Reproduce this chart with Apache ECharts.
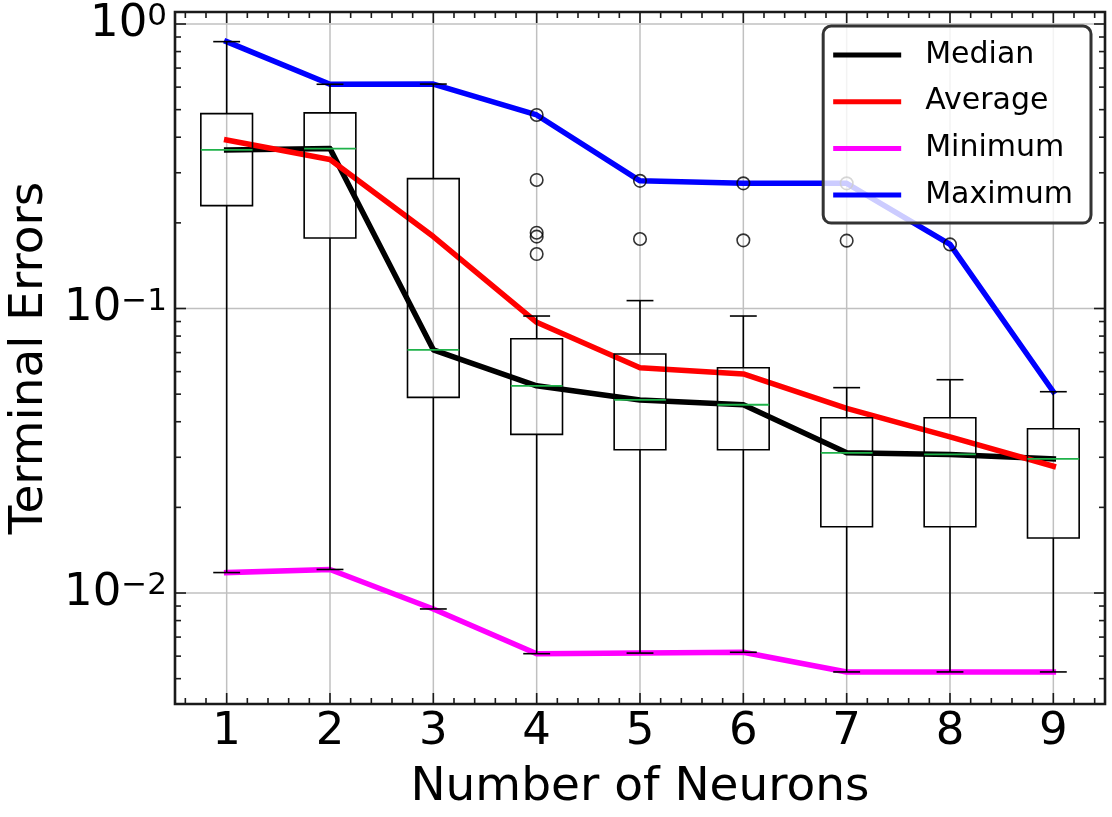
<!DOCTYPE html>
<html><head><meta charset="utf-8">
<script src="https://cdn.jsdelivr.net/npm/echarts@6/dist/echarts.min.js"></script>
<style>html,body{margin:0;padding:0;background:#fff}#chart{width:1112px;height:817px}</style>
</head><body><div id="chart"></div>
<script>
// ---- data ----
const categories = ['1', '2', '3', '4', '5', '6', '7', '8', '9'];
const whiskerLow  = [0.0118, 0.0121, 0.00879, 0.00612, 0.00615, 0.00619, 0.00528, 0.00528, 0.00528];
const boxQ1       = [0.230, 0.177, 0.0487, 0.0361, 0.0319, 0.0319, 0.0171, 0.0171, 0.0156];
const boxMedian   = [0.361, 0.365, 0.0716, 0.0535, 0.0477, 0.0459, 0.0311, 0.0307, 0.0296];
const boxQ3       = [0.484, 0.487, 0.286, 0.0783, 0.0692, 0.0619, 0.0413, 0.0413, 0.0378];
const whiskerHigh = [0.867, 0.614, 0.615, 0.0941, 0.1066, 0.0941, 0.0527, 0.0562, 0.0510];
const outlierCategory = [3, 3, 3, 3, 3, 4, 4, 5, 5, 6, 6, 7];
const outlierValue    = [0.479, 0.283, 0.1847, 0.1789, 0.1554, 0.281, 0.1755, 0.2754, 0.1736, 0.2754, 0.1732, 0.168];
const medianLine  = [0.361, 0.365, 0.0716, 0.0535, 0.0477, 0.0459, 0.0311, 0.0307, 0.0296];
const averageLine = [0.391, 0.334, 0.179, 0.0894, 0.0619, 0.0589, 0.0446, 0.0354, 0.0279];
const minimumLine = [0.0118, 0.0121, 0.00879, 0.00612, 0.00615, 0.00619, 0.00528, 0.00528, 0.00528];
const maximumLine = [0.867, 0.614, 0.615, 0.479, 0.281, 0.2754, 0.2754, 0.168, 0.0510];
const yMajorTicks = [0.01, 0.1, 1];
const yMinorTicks = [0.005, 0.006, 0.007, 0.008, 0.009,
  0.02, 0.03, 0.04, 0.05, 0.06, 0.07, 0.08, 0.09,
  0.2, 0.3, 0.4, 0.5, 0.6, 0.7, 0.8, 0.9];
const xMinorOffsets = [-0.4, -0.2, 0.2, 0.4];
const yMin = 0.004073, yMax = 1.102;

const FONT = 'DejaVu Sans';
const chart = echarts.init(document.getElementById('chart'), null, {renderer: 'canvas'});

function gridRender(params, api) {
  if (params.dataIndex !== 0) return;
  const cs = params.coordSys;
  const st = {stroke: '#c0c0c0', lineWidth: 1.5};
  const ch = [];
  for (let i = 0; i < categories.length; i++) {
    const x = api.coord([i, 0.1])[0];
    ch.push({type: 'line', shape: {x1: x, y1: cs.y, x2: x, y2: cs.y + cs.height}, style: st});
  }
  yMajorTicks.forEach(v => {
    const y = api.coord([0, v])[1];
    ch.push({type: 'line', shape: {x1: cs.x, y1: y, x2: cs.x + cs.width, y2: y}, style: st});
  });
  return {type: 'group', children: ch, silent: true};
}

function frameRender(params, api) {
  if (params.dataIndex !== 0) return;
  const cs = params.coordSys;
  const band = api.size([1, 0])[0];
  const stroke = '#1a1a1a';
  const st = {stroke: stroke, lineWidth: 1.6};
  const ch = [];
  const L = (x1, y1, x2, y2) => ch.push({type: 'line', shape: {x1, y1, x2, y2}, style: st});
  const top = cs.y, bot = cs.y + cs.height, left = cs.x, right = cs.x + cs.width;
  const maj = 11, mnr = 6;
  for (let i = 0; i < categories.length; i++) {
    const x = api.coord([i, 0.1])[0];
    L(x, bot, x, bot - maj); L(x, top, x, top + maj);
    xMinorOffsets.forEach(o => {
      const xm = x + o * band;
      L(xm, bot, xm, bot - mnr); L(xm, top, xm, top + mnr);
    });
  }
  yMajorTicks.forEach(v => {
    const y = api.coord([0, v])[1];
    L(left, y, left + maj, y); L(right, y, right - maj, y);
  });
  yMinorTicks.forEach(v => {
    const y = api.coord([0, v])[1];
    L(left, y, left + mnr, y); L(right, y, right - mnr, y);
  });
  ch.push({type: 'rect', shape: {x: left, y: top, width: cs.width, height: cs.height},
    style: {fill: 'none', stroke: stroke, lineWidth: 2.6}});
  return {type: 'group', children: ch, silent: true};
}

function boxRender(params, api) {
  const i = api.value(0);
  const band = api.size([1, 0])[0];
  const cx = api.coord([i, api.value(3)])[0];
  const yLo = api.coord([i, api.value(1)])[1];
  const yQ1 = api.coord([i, api.value(2)])[1];
  const yMed = api.coord([i, api.value(3)])[1];
  const yQ3 = api.coord([i, api.value(4)])[1];
  const yHi = api.coord([i, api.value(5)])[1];
  const hb = band * 0.25, hc = band * 0.13;
  const st = {stroke: '#000', lineWidth: 1.6};
  return {type: 'group', children: [
    {type: 'line', shape: {x1: cx, y1: yQ3, x2: cx, y2: yHi}, style: st},
    {type: 'line', shape: {x1: cx, y1: yQ1, x2: cx, y2: yLo}, style: st},
    {type: 'line', shape: {x1: cx - hc, y1: yHi, x2: cx + hc, y2: yHi}, style: st},
    {type: 'line', shape: {x1: cx - hc, y1: yLo, x2: cx + hc, y2: yLo}, style: st},
    {type: 'rect', shape: {x: cx - hb, y: yQ3, width: 2 * hb, height: yQ1 - yQ3}, style: {fill: 'none', stroke: '#000', lineWidth: 1.6}},
    {type: 'line', shape: {x1: cx - hb, y1: yMed, x2: cx + hb, y2: yMed}, style: {stroke: '#1fb24a', lineWidth: 1.8}}
  ]};
}

const lineSeries = (name, data, color) => ({
  name: name, type: 'line', data: data, z: 2, symbol: 'none', showSymbol: false,
  lineStyle: {color: color, width: 5.5, cap: 'square', join: 'round'},
  itemStyle: {color: color}, emphasis: {disabled: true}
});

const option = {
  animation: false,
  backgroundColor: '#fff',
  grid: {left: 175, right: 7, top: 12, bottom: 113, containLabel: false, outerBoundsMode: 'none'},
  legend: {
    data: ['Median', 'Average', 'Minimum', 'Maximum'],
    orient: 'vertical', right: 21, top: 26, z: 20,
    icon: 'rect', itemWidth: 68, itemHeight: 5, itemGap: 16.7,
    padding: [14, 18, 13, 10],
    backgroundColor: 'rgba(255,255,255,0.8)', borderColor: '#333', borderWidth: 3, borderRadius: 8,
    selectedMode: false,
    textStyle: {fontSize: 30, fontFamily: FONT, color: '#000', padding: [0, 0, 0, 19], lineHeight: 30}
  },
  xAxis: {
    type: 'category', data: categories, boundaryGap: true,
    axisLine: {show: false}, axisTick: {show: false}, splitLine: {show: false},
    axisLabel: {fontSize: 45, fontFamily: FONT, color: '#000', margin: 6},
    name: 'Number of Neurons', nameLocation: 'middle', nameGap: 60,
    nameTextStyle: {fontSize: 47, fontFamily: FONT, color: '#000'}
  },
  yAxis: {
    type: 'log', logBase: 10, min: yMin, max: yMax,
    axisLine: {show: false}, axisTick: {show: false}, splitLine: {show: false},
    axisLabel: {
      margin: 8, color: '#000',
      formatter: function (v) {
        const e = Math.log10(v);
        const r = Math.round(e);
        if (Math.abs(e - r) > 1e-6) return '';
        const s = r < 0 ? '\u2212' + Math.abs(r) : String(r);
        return '{b|10}{s|' + s + '}';
      },
      rich: {
        b: {fontSize: 45, fontFamily: FONT, color: '#000', lineHeight: 45},
        s: {fontSize: 31, fontFamily: FONT, color: '#000', verticalAlign: 'top', lineHeight: 31}
      }
    },
    name: 'Terminal Errors', nameLocation: 'middle', nameGap: 122,
    nameTextStyle: {fontSize: 47, fontFamily: FONT, color: '#000'}
  },
  series: [
    {type: 'custom', name: 'gridDecor', coordinateSystem: 'cartesian2d', z: 1, clip: false,
      data: [[0, 0.1]], encode: {x: 0, y: 1}, renderItem: gridRender, silent: true},
    lineSeries('Median', medianLine, '#000000'),
    lineSeries('Average', averageLine, '#ff0000'),
    lineSeries('Minimum', minimumLine, '#ff00ff'),
    lineSeries('Maximum', maximumLine, '#0000ff'),
    {type: 'custom', name: 'box', coordinateSystem: 'cartesian2d', z: 3,
      data: categories.map((c, i) => [i, whiskerLow[i], boxQ1[i], boxMedian[i], boxQ3[i], whiskerHigh[i]]),
      encode: {x: 0, y: [1, 2, 3, 4, 5]}, renderItem: boxRender, silent: true},
    {type: 'scatter', name: 'outliers', z: 4, symbol: 'circle', symbolSize: 12.5,
      data: outlierCategory.map((c, k) => [c, outlierValue[k]]),
      itemStyle: {color: 'rgba(0,0,0,0)', borderColor: '#000', borderWidth: 1.6}, silent: true},
    {type: 'custom', name: 'frameDecor', coordinateSystem: 'cartesian2d', z: 10, clip: false,
      data: [[0, 0.1]], encode: {x: 0, y: 1}, renderItem: frameRender, silent: true}
  ]
};
chart.setOption(option);
</script></body></html>
